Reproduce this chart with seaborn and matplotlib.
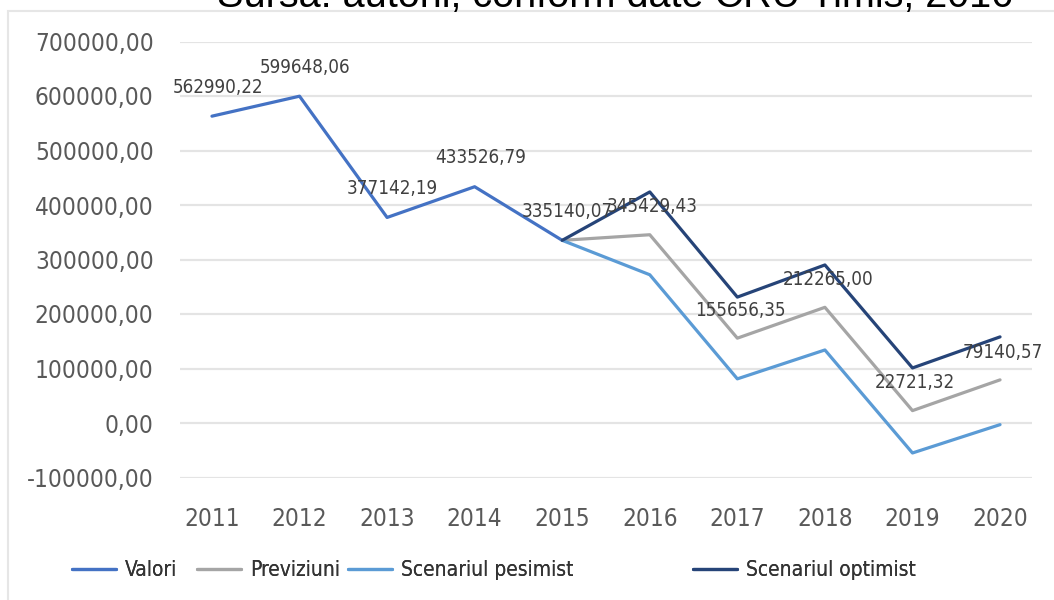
import matplotlib
matplotlib.use("Agg")
import matplotlib.pyplot as plt
import matplotlib.patches as mpatches
from matplotlib.font_manager import FontProperties
import seaborn as sns
import pandas as pd

years = [2011, 2012, 2013, 2014, 2015, 2016, 2017, 2018, 2019, 2020]
valori_years = [2011, 2012, 2013, 2014, 2015]
valori = [562990.22, 599648.06, 377142.19, 433526.79, 335140.07]
prog_years = [2015, 2016, 2017, 2018, 2019, 2020]
previziuni = [335140.07, 345429.43, 155656.35, 212265.00, 22721.32, 79140.57]
pesimist = [335140.07, 272000.0, 81000.0, 134000.0, -55000.0, -3000.0]
optimist = [335140.07, 424000.0, 231000.0, 290000.0, 101000.0, 158000.0]
series_names = ["Valori", "Previziuni", "Scenariul pesimist", "Scenariul optimist"]
colors = ["#4472C4", "#A5A5A5", "#5B9BD5", "#264478"]
title = "Sursa: autorii, conform date CRU Timis, 2016"

rows = []
for y, v in zip(valori_years, valori):
    rows.append(dict(An=y, Valoare=v, Serie=series_names[0]))
for name, vals in zip(series_names[1:], [previziuni, pesimist, optimist]):
    for y, v in zip(prog_years, vals):
        rows.append(dict(An=y, Valoare=v, Serie=name))
df = pd.DataFrame(rows)

sns.set_theme(style="white")
plt.rcParams["font.family"] = ["DejaVu Sans"]
plt.rcParams["font.stretch"] = "condensed"

W, H = 1054, 600
fig = plt.figure(figsize=(W / 100, H / 100), dpi=100)
ax = fig.add_axes([180 / W, 1 - 477.5 / H, (1032 - 180) / W, (477.5 - 41.5) / H])

sns.lineplot(data=df, x="An", y="Valoare", hue="Serie", hue_order=series_names,
             palette=colors, linewidth=2.3, ax=ax, sort=True, estimator=None)

fmt = lambda v: f"{v:.2f}".replace(".", ",")
lab_color = "#404040"
for y, v in zip(valori_years, valori):
    ax.annotate(fmt(v), (y, v), xytext=(4, 21), textcoords="offset points",
                ha="center", va="center", fontsize=13.5, color=lab_color)
for y, v in zip(prog_years[1:], previziuni[1:]):
    ax.annotate(fmt(v), (y, v), xytext=(2, 20), textcoords="offset points",
                ha="center", va="center", fontsize=13.5, color=lab_color)

ax.set_xlim(2010.635, 2020.365)
ax.set_ylim(-100000, 700000)
ax.set_xticks(years)
ax.set_xticklabels([str(y) for y in years])
yt = list(range(-100000, 700001, 100000))
ax.set_yticks(yt)
ax.set_yticklabels([fmt(v) for v in yt])
ax.tick_params(axis="both", length=0, labelsize=17.5, colors="#595959")
ax.tick_params(axis="y", pad=19)
ax.tick_params(axis="x", pad=21)
ax.grid(axis="y", color="#E4E4E4", linewidth=1.6)
ax.set_axisbelow(True)
for s in ax.spines.values():
    s.set_visible(False)
ax.set_xlabel("")
ax.set_ylabel("")

handles, labels = ax.get_legend_handles_labels()
ax.get_legend().remove()
leg_prop = FontProperties(family="DejaVu Sans", stretch="condensed", size=15)
leg_x = [72, 197, 348, 693]
for h, l, x in zip(handles, labels, leg_x):
    lg = fig.legend([h], [l], loc="center left", bbox_to_anchor=(x / W, 1 - 570 / H),
                    frameon=False, prop=leg_prop, handlelength=2.1, handletextpad=0.45,
                    borderpad=0, borderaxespad=0, labelcolor="#333333")
    fig.add_artist(lg)

border = mpatches.Rectangle((8 / W, -0.05), 1.2, 1 - 11 / H + 0.05, transform=fig.transFigure,
                            fill=False, edgecolor="#E6E6E6", linewidth=1.5)
fig.add_artist(border)

fig.text(615 / W, 1 - 7 / H, title, ha="center", va="baseline", fontsize=28.5,
         family=["Liberation Sans", "DejaVu Sans"], stretch="normal", color="black")

fig.savefig("out.png", dpi=100)
